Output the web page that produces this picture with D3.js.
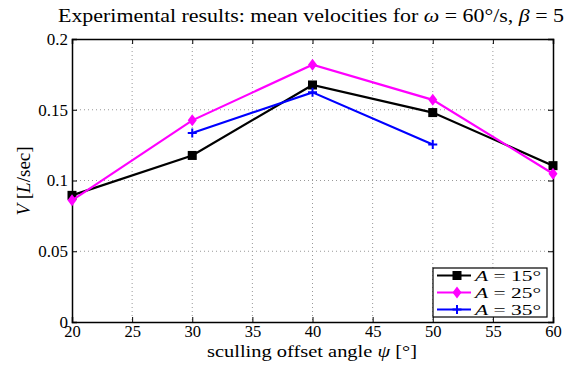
<!DOCTYPE html>
<html><head><meta charset="utf-8">
<script src="https://cdn.jsdelivr.net/npm/d3@7"></script>
<style>body{margin:0;background:#fff}svg{display:block}</style>
</head><body>
<svg id="c" width="574" height="369"></svg>
<script>
const angles = [20, 30, 40, 50, 60];
const seriesA15 = [0.0895, 0.1177, 0.1675, 0.148, 0.1105];
const seriesA25 = [0.086, 0.1425, 0.1818, 0.157, 0.1048];
const anglesA35 = [30, 40, 50];
const seriesA35 = [0.1336, 0.1623, 0.1255];
const xTicks = [20, 25, 30, 35, 40, 45, 50, 55, 60];
const yTicks = [0, 0.05, 0.1, 0.15, 0.2];
const legendLabels = ["15°", "25°", "35°"];

const svg = d3.select("#c");
const font = "'Liberation Serif', 'DejaVu Serif', serif";
const L = 72, R = 553, T = 39, B = 322;
const x = d3.scaleLinear().domain([20, 60]).range([L, R]);
const y = d3.scaleLinear().domain([0, 0.2]).range([B, T]);

// grid
const g = svg.append("g");
xTicks.slice(1, -1).forEach(t => g.append("line").attr("x1", x(t)).attr("x2", x(t)).attr("y1", T).attr("y2", B)
  .attr("stroke", "#999").attr("stroke-width", 1).attr("stroke-dasharray", "1,3"));
yTicks.slice(1, -1).forEach(t => g.append("line").attr("x1", L).attr("x2", R).attr("y1", y(t)).attr("y2", y(t))
  .attr("stroke", "#999").attr("stroke-width", 1).attr("stroke-dasharray", "1,3"));

// axes
const ax = svg.append("g").attr("transform", `translate(0,${B})`)
  .call(d3.axisBottom(x).tickValues(xTicks).tickSize(-5).tickPadding(3).tickFormat(d3.format("d")));
const axT = svg.append("g").attr("transform", `translate(0,${T})`)
  .call(d3.axisTop(x).tickValues(xTicks).tickSize(-5).tickFormat(""));
const ay = svg.append("g").attr("transform", `translate(${L},0)`)
  .call(d3.axisLeft(y).tickValues(yTicks).tickSize(-5).tickPadding(4).tickFormat(d => d === 0 ? "0" : String(+d.toFixed(2))));
const ayR = svg.append("g").attr("transform", `translate(${R},0)`)
  .call(d3.axisRight(y).tickValues(yTicks).tickSize(-5).tickFormat(""));
[ax, axT, ay, ayR].forEach(a => {
  a.selectAll("path.domain").attr("stroke", "#000").attr("stroke-width", 1.5);
  a.selectAll(".tick line").attr("stroke", "#000");
  a.selectAll("text").attr("font-family", font).attr("font-size", 17).attr("fill", "#000");
});
ax.selectAll("text").attr("font-size", 16.5);

const line = d3.line().x(d => x(d[0])).y(d => y(d[1]));
const specs = [
  {xs: angles, ys: seriesA15, color: "#000000", marker: "square"},
  {xs: angles, ys: seriesA25, color: "#ff00ff", marker: "diamond"},
  {xs: anglesA35, ys: seriesA35, color: "#0000ff", marker: "plus"}
];
function drawMarker(sel, type, cx, cy, color) {
  if (type === "square") sel.append("rect").attr("x", cx - 4.5).attr("y", cy - 4.5).attr("width", 9).attr("height", 9).attr("fill", color);
  else if (type === "diamond") sel.append("path").attr("d", `M${cx},${cy-6}L${cx+4.5},${cy}L${cx},${cy+6}L${cx-4.5},${cy}Z`).attr("fill", color);
  else sel.append("path").attr("d", `M${cx-4.5},${cy}H${cx+4.5}M${cx},${cy-4.5}V${cy+4.5}`).attr("stroke", color).attr("stroke-width", 2);
}
const plot = svg.append("g");
specs.forEach(s => {
  const pts = s.xs.map((v, i) => [v, s.ys[i]]);
  plot.append("path").attr("d", line(pts)).attr("fill", "none").attr("stroke", s.color).attr("stroke-width", 2.2);
  pts.forEach(p => drawMarker(plot, s.marker, x(p[0]), y(p[1]), s.color));
});

// title
const title = svg.append("text").attr("x", 58).attr("y", 22)
  .attr("textLength", 506).attr("lengthAdjust", "spacingAndGlyphs")
  .attr("font-family", font).attr("font-size", 19).attr("fill", "#000");
title.append("tspan").text("Experimental results:  mean velocities for ");
title.append("tspan").attr("font-style", "italic").text("ω");
title.append("tspan").text(" = 60°/s, ");
title.append("tspan").attr("font-style", "italic").text("β");
title.append("tspan").text(" = 5");

// x label
const xl = svg.append("text").attr("x", 207).attr("y", 357)
  .attr("textLength", 210).attr("lengthAdjust", "spacingAndGlyphs")
  .attr("font-family", font).attr("font-size", 17).attr("fill", "#000");
xl.append("tspan").text("sculling offset angle ");
xl.append("tspan").attr("font-style", "italic").text("ψ");
xl.append("tspan").text(" [°]");

// y label
const yl = svg.append("text").attr("transform", `translate(30,181) rotate(-90)`).attr("text-anchor", "middle")
  .attr("font-family", font).attr("font-size", 19).attr("fill", "#000");
yl.append("tspan").attr("font-style", "italic").text("V");
yl.append("tspan").text(" [");
yl.append("tspan").attr("font-style", "italic").text("L");
yl.append("tspan").text("/sec]");

// legend
const lg = svg.append("g");
lg.append("rect").attr("x", 433).attr("y", 268).attr("width", 114).attr("height", 49)
  .attr("fill", "#fff").attr("stroke", "#000").attr("stroke-width", 1.2);
specs.forEach((s, i) => {
  const ly = 275.5 + i * 17;
  lg.append("line").attr("x1", 437).attr("x2", 471).attr("y1", ly).attr("y2", ly).attr("stroke", s.color).attr("stroke-width", 2.2);
  drawMarker(lg, s.marker, 457, ly, s.color);
  const t = lg.append("text").attr("x", 475).attr("y", ly + 5.5).attr("textLength", 66).attr("lengthAdjust", "spacingAndGlyphs")
    .attr("font-family", font).attr("font-size", 15).attr("fill", "#000");
  t.append("tspan").attr("font-style", "italic").text("A");
  t.append("tspan").text(" = " + legendLabels[i]);
});
</script>
</body></html>
